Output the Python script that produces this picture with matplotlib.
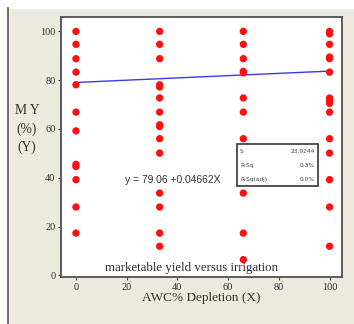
import matplotlib
matplotlib.use("Agg")
import matplotlib.pyplot as plt
from matplotlib.lines import Line2D
from matplotlib.patches import Rectangle

# data
depletion = [0, 33, 66, 100]
yield_0 = [100, 94.7, 88.8, 83.3, 78.1, 66.9, 59.2, 45.5, 44.6, 39.2, 28.0, 17.3]
yield_33 = [100, 94.7, 88.8, 78.1, 77.2, 72.7, 66.9, 61.7, 61.0, 56.0, 50.1, 33.7, 28.0, 17.3, 11.9]
yield_66 = [100, 94.7, 88.8, 83.6, 83.0, 72.7, 66.9, 56.0, 33.7, 17.3, 6.4]
yield_100 = [100, 99.0, 94.7, 89.5, 88.8, 83.3, 72.7, 71.5, 70.5, 66.9, 56.0, 50.1, 39.2, 28.0, 11.9]

intercept = 79.06
slope = 0.04662
fit_x = [0, 100]
xticks = [0, 20, 40, 60, 80, 100]
yticks = [0, 20, 40, 60, 80, 100]

stat_names = ["S", "R-Sq", "R-Sq(adj)"]
stat_values = ["23.9244", "0.3%", "0.0%"]

bg = "#ECE9DF"
serif = ["Liberation Serif", "DejaVu Serif"]

fig = plt.figure(figsize=(3.54, 3.24), dpi=100, facecolor=bg)
# white strips and dark line at left/top edge
fig.add_artist(Rectangle((0, 0), 7 / 354, 1, transform=fig.transFigure,
                         color="white", zorder=0))
fig.add_artist(Rectangle((0, 1 - 8 / 324), 1, 8 / 324, transform=fig.transFigure,
                         color="white", zorder=0))
fig.add_artist(Line2D([7.5 / 354, 7.5 / 354], [0, 1 - 8 / 324],
                      transform=fig.transFigure, color="#555555", lw=1.2))

ax = fig.add_axes([61 / 354, 1 - 277 / 324, 281 / 354, 260 / 324])
ax.set_facecolor("white")

xs, ys = [], []
for d, vals in zip(depletion, [yield_0, yield_33, yield_66, yield_100]):
    xs += [d] * len(vals)
    ys += vals
ax.scatter(xs, ys, s=28, color="#FF1010", edgecolors="none", zorder=3)

fit_y = [intercept + slope * v for v in fit_x]
ax.plot(fit_x, fit_y, color="#3A3AE8", lw=1.0, zorder=2)

ax.set_xlim(-5.9, 104.9)
ax.set_ylim(-0.7, 105.9)
ax.set_xticks(xticks)
ax.set_yticks(yticks)
for lab in ax.get_xticklabels() + ax.get_yticklabels():
    lab.set_family(serif)
    lab.set_fontsize(7.5)
    lab.set_color("#333333")
ax.tick_params(length=2.5, width=0.8, color="#444444", pad=1.5)
for sp in ax.spines.values():
    sp.set_color("#505050")
    sp.set_linewidth(1.3)

ax.set_xlabel("AWC% Depletion (X)", family=serif, fontsize=9.5, color="#333333",
              labelpad=0.5)
fig.text(27 / 354, 1 - 129 / 324, "M Y\n(%)\n(Y)", family=serif, fontsize=9.8,
         color="#333333", ha="center", va="center", linespacing=1.5)

ax.text(38.3, 38.9, "y = %.2f +%.5fX" % (intercept, slope), fontsize=7.4,
        color="#333333", ha="center", va="center", family="Liberation Sans")
ax.text(45.5, 2.8, "marketable yield versus irrigation", family=serif,
        fontsize=9.3, color="#2a2a2a", ha="center", va="center")

# stats box
box_x0, box_x1 = 63.5, 95.3
box_y0, box_y1 = 36.5, 53.7
ax.add_patch(Rectangle((box_x0, box_y0), box_x1 - box_x0, box_y1 - box_y0,
                       facecolor="white", edgecolor="#444444", lw=1.3, zorder=4))
row_h = (box_y1 - box_y0) / len(stat_names)
for i, (n, v) in enumerate(zip(stat_names, stat_values)):
    yy = box_y1 - row_h * (i + 0.5)
    ax.text(box_x0 + 1.2, yy, n, fontsize=4.2, color="#444444", va="center",
            ha="left", zorder=5)
    ax.text(box_x1 - 1.2, yy, v, fontsize=4.2, color="#444444", va="center",
            ha="right", zorder=5)

fig.savefig("out.png", dpi=100, facecolor=bg)
